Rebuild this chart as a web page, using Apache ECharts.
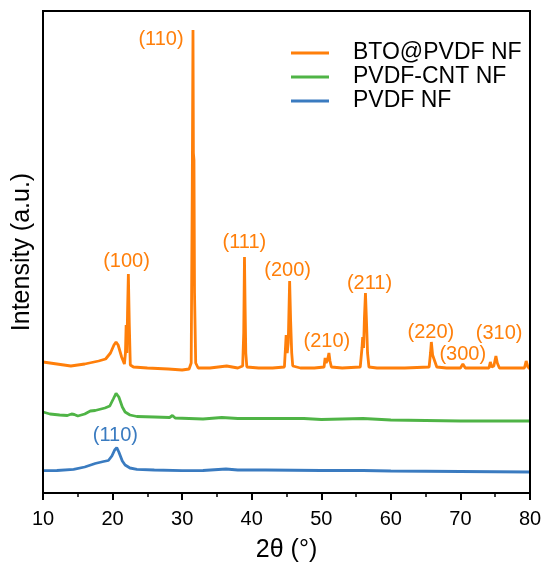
<!DOCTYPE html>
<html>
<head>
<meta charset="utf-8">
<script src="https://cdn.jsdelivr.net/npm/echarts@6/dist/echarts.min.js"></script>
<style>html,body{margin:0;padding:0;background:#fff;}#c{width:542px;height:564px;}</style>
</head>
<body>
<div id="c"></div>
<script>
// ---- Data (y = relative intensity, arbitrary units with vertical offsets) ----
const seriesNames = ['BTO@PVDF NF', 'PVDF-CNT NF', 'PVDF NF'];

const btoX = [10, 12, 14, 16, 18, 19, 19.7, 20.2, 20.5, 20.8, 21.3, 21.7, 21.85, 21.95, 22.05, 22.15, 22.27, 22.4, 22.55, 23, 25, 28, 30, 31, 31.3, 31.45, 31.56, 31.62, 31.7, 31.78, 31.95, 32.3, 34, 36.4, 38, 38.7, 38.85, 38.96, 39.05, 39.15, 39.3, 41, 43, 44.7, 44.85, 44.95, 45.1, 45.25, 45.45, 45.6, 45.75, 45.9, 47, 49, 50.4, 50.55, 50.7, 50.9, 51.1, 51.25, 51.45, 53, 55.6, 55.85, 55.95, 56.08, 56.2, 56.35, 56.5, 56.65, 56.85, 58, 62, 65.5, 65.7, 65.82, 66, 66.2, 66.35, 66.6, 68, 70.0, 70.35, 70.7, 72, 74.1, 74.3, 74.5, 74.8, 75.1, 75.3, 75.6, 77, 78.5, 78.7, 78.9, 79.2, 79.45, 79.7, 80];
const btoY = [131, 129, 127, 129, 132, 134, 140, 148, 151, 148, 136, 129, 140, 168, 140, 180, 219, 170, 128, 126, 125, 124, 123, 124, 130, 300, 463, 340, 333, 200, 130, 125, 125, 127, 125, 127, 160, 236, 186, 140, 126, 125, 125, 126, 145, 158, 140, 150, 212, 171, 140, 127, 125, 125, 126, 135, 130, 133, 140, 132, 126, 125, 126, 145, 156, 145, 175, 200, 171, 140, 126, 125, 125, 126, 140, 151, 138, 140, 131, 126, 125, 125, 129, 125, 125, 125, 131, 126, 127, 137, 130, 125, 125, 125, 127, 125, 125, 132, 126, 124];

const cntX = [10, 11, 12.4, 13.5, 14.1, 14.3, 14.5, 15, 16, 16.8, 17.5, 18.9, 19.6, 20.1, 20.5, 20.9, 21.4, 21.8, 22.5, 23.5, 26, 28.2, 28.6, 29, 31, 33, 35.7, 38, 42, 47.5, 50, 56, 60, 65, 70, 75, 80];
const cntY = [81, 79, 78, 77.5, 79, 81, 78.5, 77, 79, 82, 82.5, 85, 87, 94, 99.7, 96, 86, 81, 78, 76.5, 76, 75.5, 77.5, 75, 74.5, 74, 75.5, 74.5, 74.5, 74.5, 73.5, 74.5, 73, 72.5, 72, 72, 72];

const pvdfX = [10, 12, 14.4, 16, 17.5, 18.7, 19.4, 19.9, 20.3, 20.6, 20.9, 21.4, 21.8, 22.5, 23.5, 26, 30, 33, 36.3, 38, 42, 50, 56, 60, 70, 80];
const pvdfY = [22.3, 22.5, 23.7, 26, 29.5, 31.5, 32.5, 37, 43, 45.3, 41, 32, 28, 25, 23.7, 23, 22.3, 22.5, 24, 23, 23, 22.5, 22.5, 22, 21.5, 21];

// Peak annotations: [x, y, text]
const btoLabels = [[26.96, 454, '(110)'], [22.0, 232, '(100)'], [38.95, 251, '(111)'], [45.17, 223, '(200)'], [50.81, 152, '(210)'], [56.93, 210, '(211)'], [65.76, 161, '(220)'], [70.33, 139, '(300)'], [75.56, 160, '(310)']];
const pvdfLabels = [[20.41, 58, '(110)']];

// ---- Chart ----
const colors = ['#ff7f0a', '#4fb446', '#3a7bc0'];
const FONT = '"Liberation Sans", Arial, Helvetica, sans-serif';
const zip = (xs, ys) => xs.map((x, i) => [x, ys[i]]);
const G = {left: 43, right: 12, top: 11, bottom: 71};
const W = 542, H = 564;

const chart = echarts.init(document.getElementById('c'), null, {renderer: 'canvas'});

function lineSeries(name, xs, ys, color) {
  return {
    name: name, type: 'line', data: zip(xs, ys), showSymbol: false, symbol: 'none',
    lineStyle: {color: color, width: 2.8}, itemStyle: {color: color},
    animation: false, z: 3
  };
}
function labelSeries(list, color) {
  return {
    type: 'scatter', data: list.map(d => ({value: [d[0], d[1]], name: d[2]})),
    symbolSize: 1, itemStyle: {color: color, opacity: 0}, silent: true, animation: false,
    label: {show: true, position: 'inside', formatter: p => p.name, color: color,
            fontSize: 20, fontFamily: FONT, textBorderWidth: 0, opacity: 1}
  };
}

chart.setOption({
  backgroundColor: '#fff',
  animation: false,
  grid: {left: G.left, right: G.right, top: G.top, bottom: G.bottom, outerBoundsMode: 'none', containLabel: false},
  legend: {
    data: seriesNames, orient: 'vertical', left: 286, top: 36,
    itemWidth: 38, itemHeight: 3, itemGap: 0, icon: 'rect',
    formatter: n => '{g|}' + n,
    textStyle: {color: '#000', fontSize: 23, fontFamily: FONT, lineHeight: 24,
                rich: {g: {width: 19}}}
  },
  xAxis: {
    type: 'value', min: 10, max: 80, interval: 10,
    name: '2θ (°)', nameLocation: 'middle', nameGap: 45,
    nameTextStyle: {color: '#000', fontSize: 25, fontFamily: FONT},
    axisLine: {show: true, onZero: false, lineStyle: {color: '#000', width: 2}},
    axisTick: {show: true, inside: false, length: 7, lineStyle: {color: '#000', width: 2}},
    minorTick: {show: true, splitNumber: 2, length: 4, lineStyle: {color: '#000', width: 1.5}},
    splitLine: {show: false}, minorSplitLine: {show: false},
    axisLabel: {color: '#000', fontSize: 20, fontFamily: FONT, margin: 16}
  },
  yAxis: {
    type: 'value', min: 0, max: 482,
    name: 'Intensity (a.u.)', nameLocation: 'middle', nameGap: 8,
    nameTextStyle: {color: '#000', fontSize: 25, fontFamily: FONT},
    axisLine: {show: true, onZero: false, lineStyle: {color: '#000', width: 2}},
    axisTick: {show: false}, axisLabel: {show: false}, splitLine: {show: false}
  },
  graphic: [{
    type: 'rect', silent: true, z: 100,
    shape: {x: G.left, y: G.top, width: W - G.left - G.right, height: H - G.top - G.bottom},
    style: {fill: 'none', stroke: '#000', lineWidth: 2}
  }],
  series: [
    lineSeries(seriesNames[0], btoX, btoY, colors[0]),
    lineSeries(seriesNames[1], cntX, cntY, colors[1]),
    lineSeries(seriesNames[2], pvdfX, pvdfY, colors[2]),
    labelSeries(btoLabels, colors[0]),
    labelSeries(pvdfLabels, colors[2])
  ]
});
</script>
</body>
</html>
